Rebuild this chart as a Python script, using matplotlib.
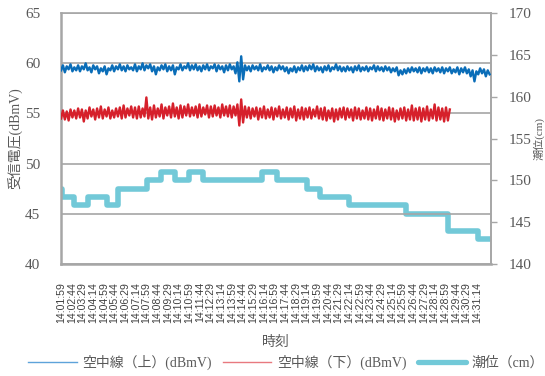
import numpy as np
import matplotlib
matplotlib.use("Agg")
import matplotlib.pyplot as plt
from matplotlib.lines import Line2D

plt.rcParams['font.family'] = ['Liberation Serif', 'Noto Sans CJK JP', 'DejaVu Sans']

# ---- data ---------------------------------------------------------------
# received voltage, one reading every 8 seconds from 14:01:59
sample_interval_s = 8
upper_dbmv = [
    59.3, 59.8, 59.1, 59.7, 59.4, 59.9, 59.2, 59.6, 59.3, 59.8,
    59.2, 59.7, 59.4, 60.0, 59.3, 59.6, 59.1, 59.8, 59.4, 59.7,
    59.0, 59.5, 59.2, 59.7, 58.9, 59.5, 59.3, 59.8, 59.2, 59.7,
    59.4, 59.9, 59.3, 59.7, 59.2, 59.8, 59.4, 59.6, 59.3, 59.9,
    59.2, 59.7, 59.4, 60.0, 59.3, 59.8, 59.5, 59.9, 59.2, 59.7,
    58.9, 59.6, 59.3, 59.8, 59.4, 59.9, 59.2, 59.7, 59.3, 59.8,
    58.9, 59.6, 59.4, 59.9, 59.3, 59.7, 59.5, 60.0, 59.3, 59.8,
    59.4, 59.9, 59.3, 59.7, 59.2, 59.8, 59.4, 59.9, 59.3, 59.7,
    59.5, 59.9, 59.2, 59.8, 59.4, 59.7, 59.1, 59.8, 59.3, 59.9,
    59.4, 59.7, 59.0, 60.1, 58.2, 60.7, 58.4, 59.8, 59.3, 59.7,
    59.2, 59.8, 59.4, 59.7, 59.3, 59.9, 59.2, 59.6, 59.4, 59.8,
    59.3, 59.7, 59.1, 59.6, 59.3, 59.8, 59.4, 59.7, 59.2, 59.6,
    59.0, 59.5, 59.2, 59.7, 59.1, 59.6, 59.3, 59.8, 59.2, 59.7,
    59.3, 59.8, 59.4, 59.9, 59.2, 59.7, 59.3, 59.6, 59.1, 59.7,
    59.3, 59.8, 59.2, 59.6, 59.4, 59.9, 59.3, 59.7, 59.2, 59.6,
    59.2, 59.7, 59.3, 59.6, 59.1, 59.7, 59.3, 59.8, 59.2, 59.6,
    59.3, 59.7, 59.2, 59.6, 59.4, 59.8, 59.2, 59.7, 59.3, 59.6,
    59.2, 59.7, 59.3, 59.6, 59.1, 59.5, 59.2, 59.6, 58.8, 59.3,
    58.9, 59.4, 59.0, 59.5, 59.1, 59.6, 59.2, 59.5, 59.1, 59.6,
    59.0, 59.5, 59.2, 59.6, 59.1, 59.5, 59.0, 59.6, 59.2, 59.5,
    59.1, 59.6, 59.0, 59.5, 59.2, 59.6, 59.0, 59.4, 59.1, 59.6,
    58.9, 59.5, 59.1, 59.6, 59.0, 59.4, 58.7, 59.3, 58.2, 59.2,
    58.9, 59.5, 59.0, 59.4, 58.7, 59.3, 58.9,
]
lower_dbmv = [
    54.5, 55.3, 54.4, 55.2, 54.3, 55.4, 54.6, 55.3, 54.5, 55.5,
    54.6, 55.4, 54.2, 55.3, 54.5, 55.6, 54.7, 55.4, 54.4, 55.5,
    54.6, 55.7, 54.5, 55.4, 54.7, 55.6, 54.5, 55.3, 54.6, 55.5,
    54.7, 55.6, 54.5, 55.8, 54.6, 55.5, 54.8, 55.7, 54.6, 55.6,
    54.5, 55.7, 54.6, 55.5, 54.7, 56.6, 54.5, 55.6, 54.4, 55.8,
    54.6, 55.5, 54.7, 55.9, 54.5, 55.6, 54.8, 55.7, 54.6, 56.0,
    54.7, 55.6, 54.5, 55.8, 54.6, 55.7, 54.8, 55.9, 54.7, 55.6,
    54.8, 55.7, 54.6, 55.9, 54.7, 55.6, 54.9, 55.8, 54.6, 55.7,
    54.7, 55.8, 54.8, 55.6, 54.6, 55.9, 54.8, 55.7, 54.7, 55.8,
    54.6, 55.7, 54.8, 55.9, 53.8, 56.4, 54.1, 55.7, 54.6, 55.6,
    54.5, 55.5, 54.7, 55.6, 54.4, 55.5, 54.6, 55.7, 54.5, 55.4,
    54.6, 55.6, 54.4, 55.5, 54.7, 55.7, 54.5, 55.4, 54.6, 55.6,
    54.4, 55.5, 54.6, 55.7, 54.3, 55.4, 54.5, 55.6, 54.4, 55.5,
    54.6, 55.6, 54.5, 55.4, 54.7, 55.7, 54.5, 55.5, 54.4, 55.6,
    54.3, 55.3, 54.5, 55.5, 54.2, 55.4, 54.4, 55.5, 54.6, 55.6,
    54.4, 55.5, 54.6, 55.4, 54.3, 55.6, 54.5, 55.5, 54.4, 55.3,
    54.5, 55.6, 54.4, 55.5, 54.3, 55.4, 54.5, 55.7, 54.4, 55.5,
    54.3, 55.4, 54.5, 55.6, 54.4, 55.5, 54.2, 55.3, 54.4, 55.5,
    54.5, 55.6, 54.3, 55.4, 54.4, 55.8, 54.3, 55.5, 54.4, 55.6,
    54.2, 55.5, 54.4, 55.7, 54.3, 55.4, 54.5, 55.9, 54.3, 55.6,
    54.4, 55.5, 54.2, 55.6, 54.3, 55.4,
]

# tide level: seconds from 14:01:59 at which each level begins
tide_start_s = [0, 3, 55, 115, 193, 242, 362, 422, 481, 540, 600,
                847, 910, 1037, 1093, 1216, 1454, 1634, 1760, 1814]
tide_cm = [149, 148, 147, 148, 147, 149, 150, 151, 150, 151, 150,
           151, 150, 149, 148, 147, 146, 144, 143, 143]

time_labels = [
    "14:01:59", "14:02:44", "14:03:29", "14:04:14", "14:04:59", "14:05:44",
    "14:06:29", "14:07:14", "14:07:59", "14:08:44", "14:09:29", "14:10:14",
    "14:10:59", "14:11:44", "14:12:29", "14:13:14", "14:13:59", "14:14:44",
    "14:15:29", "14:16:14", "14:16:59", "14:17:44", "14:18:29", "14:19:14",
    "14:19:59", "14:20:44", "14:21:29", "14:22:14", "14:22:59", "14:23:44",
    "14:24:29", "14:25:14", "14:25:59", "14:26:44", "14:27:29", "14:28:14",
    "14:28:59", "14:29:44", "14:30:29", "14:31:14",
]
label_step_s = 45

series_names = ["空中線（上）(dBmV)", "空中線（下）(dBmV)", "潮位（cm）"]

# ---- styling ------------------------------------------------------------
c_upper = "#0A6DB8"
c_lower = "#D6202B"
c_tide = "#72C9D8"
grey = "#A6A6A6"
text_c = "#595959"

fig = plt.figure(figsize=(5.45, 3.76), dpi=100)
ax = fig.add_axes([0.112, 0.298, 0.789, 0.667])
ax2 = ax.twinx()

x_up = np.arange(len(upper_dbmv)) * sample_interval_s
x_lo = np.arange(len(lower_dbmv)) * sample_interval_s

ax.plot(x_up, upper_dbmv, color=c_upper, lw=1.7, zorder=3)
ax.plot(x_lo, lower_dbmv, color=c_lower, lw=1.7, zorder=3)
ax2.plot(tide_start_s, tide_cm, color=c_tide, lw=4.0, drawstyle="steps-post",
         solid_joinstyle="round", solid_capstyle="round", zorder=2)

ax.set_zorder(ax2.get_zorder() + 1)
ax.patch.set_visible(False)

x_end = tide_start_s[-1]
ax.set_xlim(0, x_end)
ax.set_ylim(40, 65)
ax.set_yticks([40, 45, 50, 55, 60, 65])
ax2.set_ylim(140, 170)
ax2.set_yticks([140, 145, 150, 155, 160, 165, 170])

ax.yaxis.grid(True, color=grey, lw=1.2)
ax.set_axisbelow(True)

tick_pos = np.arange(len(time_labels)) * label_step_s
ax.set_xticks(tick_pos)
ax.set_xticklabels(time_labels, rotation=90, fontsize=7.6,
                   family=["Liberation Sans"], color="#404040")
ax.tick_params(axis="x", length=0, pad=13)
ax.tick_params(axis="y", length=0, pad=15, labelsize=11, labelcolor=text_c)
ax2.tick_params(axis="y", length=4, width=1, color=grey, pad=9,
                labelsize=11, labelcolor=text_c)

for a in (ax, ax2):
    for side, sp in a.spines.items():
        sp.set_color(grey)
ax.spines["left"].set_linewidth(1.8)
ax.spines["bottom"].set_linewidth(1.8)
ax.spines["top"].set_linewidth(1.2)
ax2.spines["top"].set_visible(False)
ax2.spines["right"].set_linewidth(1.4)
ax2.spines["left"].set_visible(False)
ax2.spines["bottom"].set_visible(False)
ax.spines["right"].set_visible(False)

ax.set_ylabel("受信電圧(dBmV)", fontsize=10, color=text_c)
ax.yaxis.set_label_coords(-0.087, 0.5)
ax2.set_ylabel("潮位(cm)", fontsize=8, color=text_c)
ax2.yaxis.set_label_coords(1.099, 0.5)
ax.set_xlabel("時刻", fontsize=10, color=text_c, labelpad=9)

handles = [
    Line2D([], [], color="#5DA3DA", lw=1.0),
    Line2D([], [], color="#E8797F", lw=1.0),
    Line2D([], [], color=c_tide, lw=3.8, solid_capstyle="round"),
]
fig.legend(handles, series_names, loc="center", bbox_to_anchor=(0.525, 0.037),
           ncol=3, frameon=False, fontsize=10, handlelength=3.5,
           handletextpad=0.4, columnspacing=0.8, labelcolor=text_c)

fig.savefig("out.png", dpi=100)
